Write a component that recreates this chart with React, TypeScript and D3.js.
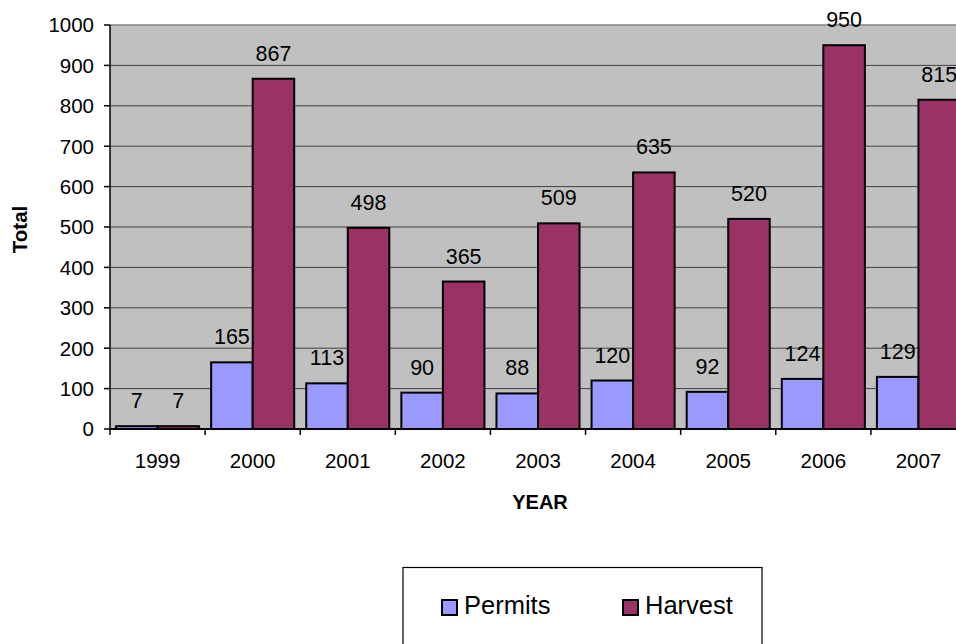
import { useMemo } from "react";
import * as d3 from "d3";

const WIDTH = 956;
const HEIGHT = 644;
const PLOT = { left: 110, top: 25, right: 966, bottom: 429 };

const years = ["1999", "2000", "2001", "2002", "2003", "2004", "2005", "2006", "2007"];
const permits = [7, 165, 113, 90, 88, 120, 92, 124, 129];
const harvest = [7, 867, 498, 365, 509, 635, 520, 950, 815];
const seriesNames = ["Permits", "Harvest"];
const seriesColors = ["#9999FF", "#993366"];
const yTicks = [0, 100, 200, 300, 400, 500, 600, 700, 800, 900, 1000];

const FONT = "'Liberation Sans', Arial, sans-serif";

export default function App() {
  const x0 = useMemo(
    () => d3.scaleBand<string>().domain(years).range([PLOT.left, PLOT.right]).padding(0),
    []
  );
  const x1 = useMemo(
    () =>
      d3
        .scaleBand<string>()
        .domain(seriesNames)
        .range([0, x0.bandwidth()])
        .paddingInner(0)
        .paddingOuter(0.145),
    [x0]
  );
  const y = useMemo(
    () => d3.scaleLinear().domain([0, 1000]).range([PLOT.bottom, PLOT.top]),
    []
  );

  const rows = years.map((year, i) => ({ year, values: [permits[i], harvest[i]] }));

  return (
    <svg
      width={WIDTH}
      height={HEIGHT}
      style={{ position: "absolute", left: 0, top: 0, background: "#fff" }}
      fontFamily={FONT}
    >
      {/* plot background */}
      <rect
        x={PLOT.left}
        y={PLOT.top}
        width={PLOT.right - PLOT.left}
        height={PLOT.bottom - PLOT.top}
        fill="#C0C0C0"
      />
      {/* gridlines */}
      {yTicks.slice(1, -1).map((t) => (
        <line
          key={t}
          x1={PLOT.left}
          x2={PLOT.right}
          y1={y(t)}
          y2={y(t)}
          stroke="#404040"
          strokeWidth={1}
        />
      ))}
      <line
        x1={PLOT.left}
        x2={PLOT.right}
        y1={y(1000)}
        y2={y(1000)}
        stroke="#808080"
        strokeWidth={1.5}
      />

      {/* bars */}
      {rows.map((r) => (
        <g key={r.year} transform={`translate(${x0(r.year)},0)`}>
          {r.values.map((v, j) => (
            <rect
              key={j}
              x={x1(seriesNames[j])}
              y={y(v)}
              width={x1.bandwidth()}
              height={y(0) - y(v)}
              fill={seriesColors[j]}
              stroke="#000"
              strokeWidth={2}
            />
          ))}
          {r.values.map((v, j) => (
            <text
              key={"l" + j}
              x={(x1(seriesNames[j]) ?? 0) + x1.bandwidth() / 2}
              y={y(v) - 18}
              textAnchor="middle"
              fontSize={21.5}
              fill="#000"
            >
              {v}
            </text>
          ))}
        </g>
      ))}

      {/* y axis */}
      <line x1={PLOT.left} x2={PLOT.left} y1={PLOT.top} y2={PLOT.bottom} stroke="#000" strokeWidth={1.5} />
      {yTicks.map((t) => (
        <g key={t}>
          <line x1={PLOT.left - 6} x2={PLOT.left} y1={y(t)} y2={y(t)} stroke="#000" strokeWidth={1.5} />
          <text
            x={PLOT.left - 16}
            y={y(t)}
            dy="0.36em"
            textAnchor="end"
            fontSize={20.5}
            fill="#000"
          >
            {t}
          </text>
        </g>
      ))}

      {/* x axis */}
      <line x1={PLOT.left} x2={PLOT.right} y1={PLOT.bottom} y2={PLOT.bottom} stroke="#000" strokeWidth={2} />
      {years.map((yr) => (
        <g key={yr}>
          <line
            x1={x0(yr)}
            x2={x0(yr)}
            y1={PLOT.bottom}
            y2={PLOT.bottom + 6}
            stroke="#000"
            strokeWidth={1.5}
          />
          <text
            x={(x0(yr) ?? 0) + x0.bandwidth() / 2}
            y={468}
            textAnchor="middle"
            fontSize={20.5}
            fill="#000"
          >
            {yr}
          </text>
        </g>
      ))}

      {/* axis titles */}
      <text x={540} y={509} textAnchor="middle" fontSize={20} fontWeight="bold">
        YEAR
      </text>
      <text
        transform="translate(26.5,229.5) rotate(-90)"
        textAnchor="middle"
        fontSize={20.5}
        fontWeight="bold"
      >
        Total
      </text>

      {/* legend */}
      <rect x={403} y={567.5} width={359} height={100} fill="#fff" stroke="#000" strokeWidth={1.2} />
      {seriesNames.map((name, j) => {
        const lx = j === 0 ? 442 : 623;
        return (
          <g key={name}>
            <rect x={lx} y={600} width={15} height={15} fill={seriesColors[j]} stroke="#000" strokeWidth={2} />
            <text x={lx + 22} y={614} fontSize={25.5} fill="#000">
              {name}
            </text>
          </g>
        );
      })}
    </svg>
  );
}
